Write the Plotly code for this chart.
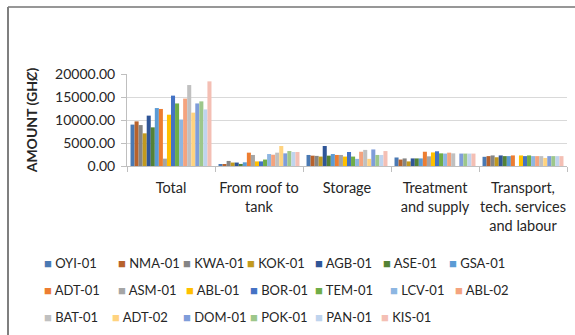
import plotly.graph_objects as go

# Cost components (x-axis categories)
categories = ["Total", "From roof to<br>tank", "Storage",
              "Treatment<br>and supply", "Transport,<br>tech. services<br>and labour"]

# Rainwater harvesting sites
sites = ["OYI-01", "NMA-01", "KWA-01", "KOK-01", "AGB-01", "ASE-01", "GSA-01",
         "ADT-01", "ASM-01", "ABL-01", "BOR-01", "TEM-01", "LCV-01", "ABL-02",
         "BAT-01", "ADT-02", "DOM-01", "POK-01", "PAN-01", "KIS-01"]

# Amount (GHȻ) per site, one value per category in the order above
total = [9000, 9700, 8900, 7100, 10950, 8400, 12600, 12400, 1600, 11150,
         15300, 13600, 10100, 14650, 17600, 11600, 13600, 14050, 12300, 18400]
roof_to_tank = [350, 400, 1100, 750, 750, 450, 800, 2900, 2400, 1000,
                1000, 1400, 2600, 2450, 2900, 4350, 2750, 3250, 3050, 3050]
storage = [2400, 2250, 2200, 2050, 4350, 2250, 2600, 2400, 2400, 2050,
           3050, 2050, 1550, 3100, 3500, 1550, 3600, 2400, 2400, 3250]
treatment_supply = [1850, 1400, 1650, 1000, 1650, 1650, 1650, 3100, 2100, 2950,
                    3200, 2750, 2700, 2900, 2750, 0, 2700, 2700, 2700, 2700]
transport_labour = [2000, 2150, 2300, 1900, 2300, 2150, 2150, 2300, 0, 2300,
                    2150, 2300, 2150, 2150, 2150, 1750, 2150, 2150, 2150, 2150]

colors = ["#4A79B3", "#B8622C", "#858585", "#C29A1E", "#2F5597", "#548235", "#5B9BD5",
          "#ED7D31", "#A5A5A5", "#FFC000", "#4472C4", "#70AD47", "#8DB6E2", "#F4A37E",
          "#C0C0C0", "#FFD37F", "#7F9DDA", "#9DC78A", "#BFD4EE", "#F4BFB4"]

series = list(zip(total, roof_to_tank, storage, treatment_supply, transport_labour))

W, H = 575, 335
ML, MR, MT, MB = 127, 8, 74, 169
PW, PH = W - ML - MR, H - MT - MB

FONT = "Lato"
TXT = "#262626"

# legend layout: three rows, left edge (px) of each entry's square swatch
legend_rows_y = [263, 290, 317]
legend_swatch_x = [44, 118, 183, 247, 315, 383, 449,
                   44, 118, 186, 250, 315, 390, 455,
                   44, 112, 183, 250, 315, 381]
LEGEND_TEXT_OFFSET = 40  # plotly places entry text 40px right of the legend's left edge

fig = go.Figure()
legends = {}
for i, (name, vals) in enumerate(zip(sites, series)):
    key = "legend" if i == 0 else f"legend{i + 1}"
    fig.add_trace(go.Bar(
        name=name, x=categories, y=list(vals),
        marker=dict(color=colors[i], line=dict(width=0)),
        legendgroup=name, showlegend=False,
    ))
    # legend entry: compact coloured square drawn inline with the label
    fig.add_trace(go.Scatter(
        name=f"<span style='color:{colors[i]}'>■</span> {name}",
        x=[None], y=[None], mode="markers",
        marker=dict(color="rgba(0,0,0,0)", size=1, line=dict(width=0)),
        legendgroup=name, showlegend=True, legend=key, hoverinfo="skip",
    ))
    legends[key] = dict(
        orientation="h", xref="container", yref="container",
        xanchor="left", yanchor="middle",
        x=(legend_swatch_x[i] - LEGEND_TEXT_OFFSET) / W,
        y=1 - legend_rows_y[i // 7] / H,
        font=dict(family=FONT, size=13, color=TXT),
        bgcolor="rgba(0,0,0,0)", borderwidth=0,
    )

def px_x(px):
    return (px - ML) / PW

def px_y(py):
    return (H - MB - py) / PH

# outer frame lines
shapes = [
    dict(type="line", xref="paper", yref="paper",
         x0=px_x(8), x1=px_x(W + 2), y0=px_y(7), y1=px_y(7),
         line=dict(color="#303030", width=1.2)),
    dict(type="line", xref="paper", yref="paper",
         x0=px_x(8), x1=px_x(8), y0=px_y(7), y1=px_y(H + 2),
         line=dict(color="#7F7F7F", width=2)),
]

fig.update_layout(
    width=W, height=H,
    margin=dict(l=ML, r=MR, t=MT, b=MB, autoexpand=False),
    paper_bgcolor="white", plot_bgcolor="white",
    barmode="group", bargap=0.08, bargroupgap=0,
    font=dict(family=FONT, size=13, color=TXT),
    shapes=shapes,
    xaxis=dict(
        showgrid=False, showline=True, linecolor="#BFBFBF", linewidth=1,
        ticks="outside", tickson="boundaries", ticklen=5, tickcolor="#BFBFBF",
        tickfont=dict(family=FONT, size=14.5, color=TXT), tickangle=0,
        ticklabelstandoff=9,
    ),
    yaxis=dict(
        range=[0, 20000], dtick=5000, tickformat=".2f",
        showgrid=True, gridcolor="#D9D9D9", gridwidth=1,
        showline=True, linecolor="#BFBFBF", linewidth=1,
        ticks="outside", ticklen=5, tickcolor="#BFBFBF",
        tickfont=dict(family=FONT, size=14, color=TXT),
        ticklabelstandoff=3,
        zeroline=False,
        title=dict(text="<b>AMOUNT (GHȻ)</b>", standoff=14,
                   font=dict(family=FONT, size=14, color=TXT)),
    ),
    showlegend=True,
)
fig.update_layout(**legends)

fig.write_html("out.html")
